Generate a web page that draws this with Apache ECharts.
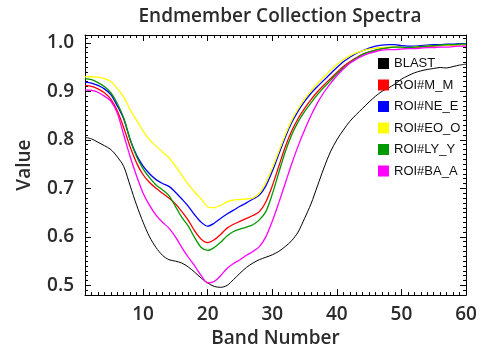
<!DOCTYPE html>
<html>
<head>
<meta charset="utf-8">
<script src="https://cdn.jsdelivr.net/npm/echarts@6/dist/echarts.min.js"></script>
<style>
  html, body { margin: 0; padding: 0; background: #fff; }
  #chart { width: 481px; height: 353px; }
</style>
</head>
<body>
<div id="chart"></div>
<script>
// Band numbers 1..60
const bands = [];
for (let b = 1; b <= 60; b++) bands.push(b);

const seriesNames = ['BLAST', 'ROI#M_M', 'ROI#NE_E', 'ROI#EO_O', 'ROI#LY_Y', 'ROI#BA_A'];
const seriesColors = ['#000000', '#ff0000', '#0000ff', '#ffff00', '#009900', '#ff00ff'];

const blast = [
  0.805, 0.802, 0.795, 0.788, 0.780, 0.765, 0.745, 0.705, 0.665, 0.630,
  0.600, 0.578, 0.562, 0.553, 0.550, 0.546, 0.538, 0.527, 0.515, 0.505,
  0.498, 0.496, 0.500, 0.512, 0.525, 0.537, 0.546, 0.553, 0.558, 0.563,
  0.570, 0.580, 0.592, 0.610, 0.638, 0.668, 0.705, 0.742, 0.775, 0.800,
  0.820, 0.838, 0.852, 0.865, 0.878, 0.890, 0.900, 0.907, 0.915, 0.925,
  0.932, 0.938, 0.942, 0.945, 0.947, 0.949, 0.948, 0.951, 0.954, 0.956
];
const roiMM = [
  0.912, 0.910, 0.905, 0.897, 0.884, 0.860, 0.825, 0.785, 0.752, 0.728,
  0.712, 0.700, 0.690, 0.680, 0.668, 0.652, 0.634, 0.612, 0.595, 0.588,
  0.594, 0.605, 0.618, 0.626, 0.632, 0.638, 0.644, 0.652, 0.672, 0.705,
  0.745, 0.785, 0.818, 0.844, 0.865, 0.883, 0.899, 0.913, 0.926, 0.939,
  0.951, 0.961, 0.969, 0.976, 0.981, 0.985, 0.988, 0.990, 0.991, 0.990,
  0.989, 0.990, 0.991, 0.992, 0.993, 0.994, 0.995, 0.995, 0.996, 0.996
];
const roiNEE = [
  0.919, 0.917, 0.912, 0.905, 0.893, 0.870, 0.843, 0.800, 0.768, 0.746,
  0.730, 0.718, 0.710, 0.704, 0.692, 0.678, 0.663, 0.645, 0.630, 0.622,
  0.628, 0.638, 0.647, 0.655, 0.663, 0.670, 0.678, 0.686, 0.705, 0.735,
  0.770, 0.805, 0.835, 0.859, 0.879, 0.896, 0.910, 0.923, 0.936, 0.949,
  0.961, 0.970, 0.978, 0.984, 0.989, 0.993, 0.995, 0.996, 0.996, 0.994,
  0.993, 0.993, 0.994, 0.995, 0.996, 0.996, 0.997, 0.997, 0.998, 0.998
];
const roiEOO = [
  0.930, 0.930, 0.929, 0.926, 0.920, 0.906, 0.888, 0.862, 0.840, 0.818,
  0.800, 0.787, 0.775, 0.763, 0.746, 0.727, 0.708, 0.692, 0.678, 0.662,
  0.660, 0.665, 0.672, 0.676, 0.677, 0.678, 0.680, 0.690, 0.712, 0.742,
  0.776, 0.810, 0.840, 0.864, 0.884, 0.901, 0.916, 0.930, 0.943, 0.955,
  0.965, 0.973, 0.979, 0.984, 0.987, 0.989, 0.990, 0.991, 0.991, 0.990,
  0.990, 0.991, 0.992, 0.993, 0.994, 0.994, 0.995, 0.995, 0.996, 0.996
];
const roiLYY = [
  0.926, 0.924, 0.918, 0.910, 0.897, 0.875, 0.845, 0.800, 0.765, 0.740,
  0.722, 0.707, 0.697, 0.685, 0.663, 0.640, 0.622, 0.598, 0.578, 0.572,
  0.578, 0.589, 0.602, 0.611, 0.616, 0.620, 0.625, 0.635, 0.652, 0.688,
  0.732, 0.775, 0.810, 0.837, 0.858, 0.876, 0.893, 0.908, 0.922, 0.936,
  0.948, 0.959, 0.968, 0.976, 0.981, 0.985, 0.988, 0.990, 0.991, 0.991,
  0.990, 0.991, 0.992, 0.993, 0.994, 0.995, 0.996, 0.996, 0.997, 0.997
];
const roiBAA = [
  0.903, 0.902, 0.898, 0.890, 0.880, 0.855, 0.810, 0.765, 0.725, 0.690,
  0.665, 0.645, 0.630, 0.618, 0.600, 0.578, 0.558, 0.540, 0.520, 0.505,
  0.508, 0.520, 0.535, 0.545, 0.553, 0.562, 0.570, 0.580, 0.600, 0.632,
  0.670, 0.710, 0.750, 0.787, 0.820, 0.850, 0.876, 0.898, 0.916, 0.932,
  0.946, 0.958, 0.966, 0.973, 0.978, 0.982, 0.985, 0.986, 0.986, 0.987,
  0.988, 0.988, 0.989, 0.990, 0.990, 0.991, 0.991, 0.992, 0.993, 0.993
];
const allValues = [blast, roiMM, roiNEE, roiEOO, roiLYY, roiBAA];

// Tick labels
const xMajor = [10, 20, 30, 40, 50, 60];
const yMajor = [0.5, 0.6, 0.7, 0.8, 0.9, 1.0];

const xMinor = bands.slice();
const yMinor = [];
for (let i = 48; i <= 101; i++) yMinor.push(i / 100);

const font = 'Open Sans';
const textColor = '#2b2b2b';

const chart = echarts.init(document.getElementById('chart'), null, { renderer: 'canvas' });

// One axis per side with long major ticks, one overlapping with short minor ticks
function xAx(pos, ticks, len, main) {
  return {
    type: 'value', position: pos, min: 1, max: 60,
    axisLine: { show: main, onZero: false, lineStyle: { color: '#000', width: 1 } },
    axisTick: { show: true, inside: true, length: len, customValues: ticks, lineStyle: { color: '#000' } },
    axisLabel: main && pos === 'bottom'
      ? { show: true, customValues: xMajor, margin: 10, color: textColor, fontFamily: font, fontSize: 19, fontWeight: 600 }
      : { show: false },
    splitLine: { show: false },
    name: main && pos === 'bottom' ? 'Band Number' : '',
    nameLocation: 'middle',
    nameGap: 32,
    nameTextStyle: { color: textColor, fontFamily: font, fontSize: 19, fontWeight: 600 }
  };
}
function yAx(pos, ticks, len, main) {
  return {
    type: 'value', position: pos, min: 0.48, max: 1.016,
    axisLine: { show: main, onZero: false, lineStyle: { color: '#000', width: 1 } },
    axisTick: { show: true, inside: true, length: len, customValues: ticks, lineStyle: { color: '#000' } },
    axisLabel: main && pos === 'left'
      ? { show: true, customValues: yMajor, margin: 11, color: textColor, fontFamily: font, fontSize: 19, fontWeight: 600,
          formatter: (v) => v.toFixed(1) }
      : { show: false },
    splitLine: { show: false },
    name: main && pos === 'left' ? 'Value' : '',
    nameLocation: 'middle',
    nameGap: 51,
    nameTextStyle: { color: textColor, fontFamily: font, fontSize: 19, fontWeight: 600 }
  };
}

chart.setOption({
  animation: false,
  backgroundColor: '#fff',
  title: {
    text: 'Endmember Collection Spectra',
    left: 275, textAlign: 'center',
    top: 2,
    textStyle: { color: textColor, fontFamily: font, fontSize: 19, fontWeight: 600 }
  },
  legend: {
    orient: 'vertical',
    left: 373, top: 51,
    icon: 'rect',
    itemWidth: 11, itemHeight: 11,
    itemGap: 6.5,
    data: seriesNames,
    textStyle: { color: '#111', fontFamily: 'Liberation Sans', fontSize: 13, lineHeight: 15 }
  },
  grid: { left: 85, right: 15, top: 35, bottom: 50 },
  xAxis: [
    xAx('bottom', xMajor, 6, true),
    xAx('bottom', xMinor, 3, false),
    xAx('top', xMajor, 6, true),
    xAx('top', xMinor, 3, false)
  ],
  yAxis: [
    yAx('left', yMajor, 6, true),
    yAx('left', yMinor, 3, false),
    yAx('right', yMajor, 6, true),
    yAx('right', yMinor, 3, false)
  ],
  series: seriesNames.map((name, i) => ({
    name: name,
    type: 'line',
    xAxisIndex: 0,
    yAxisIndex: 0,
    data: bands.map((b, k) => [b, allValues[i][k]]),
    showSymbol: false,
    smooth: 0.3,
    color: seriesColors[i],
    lineStyle: { width: i === 0 ? 1 : 1.3, color: seriesColors[i] }
  }))
});
</script>
</body>
</html>
